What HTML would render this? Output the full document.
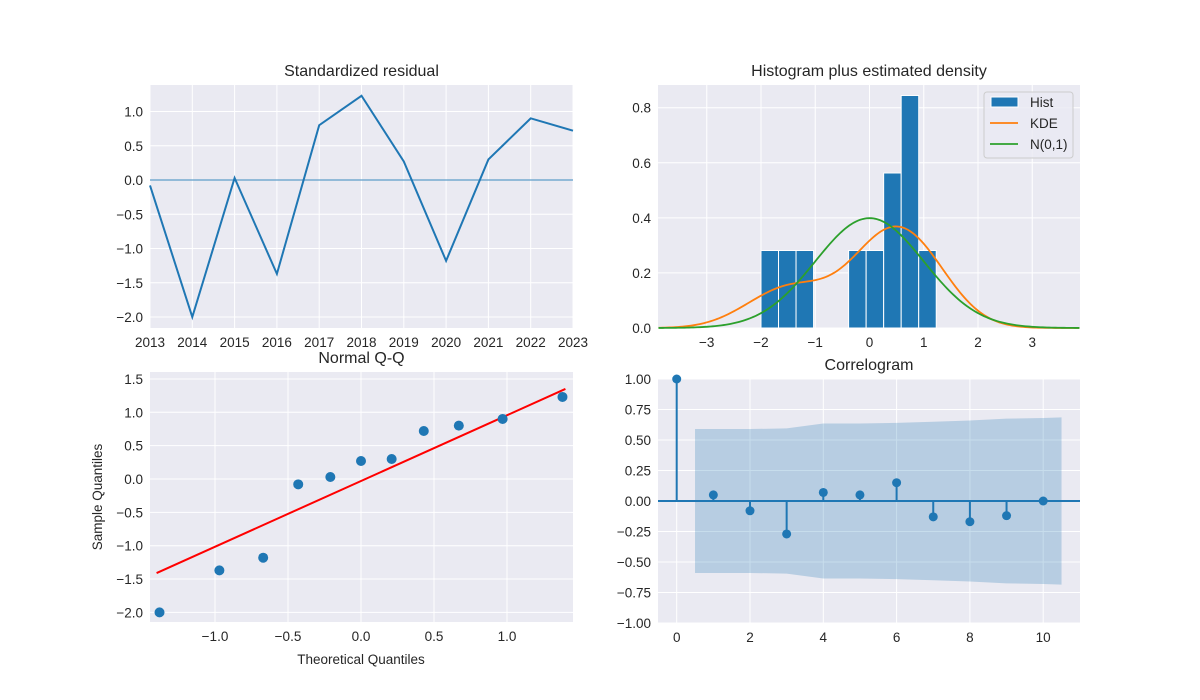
<!DOCTYPE html>
<html><head><meta charset="utf-8"><style>
body{margin:0;background:#fff}
svg{display:block;font-family:"Liberation Sans",sans-serif}
text{fill:#262626}
</style></head><body>
<svg id="fig" width="1200" height="700"></svg>
<script>
const years=[2013,2014,2015,2016,2017,2018,2019,2020,2021,2022,2023];
const resid=[-0.08,-2.0,0.03,-1.37,0.8,1.23,0.27,-1.18,0.3,0.9,0.72];
const resYTicks=[-2.0,-1.5,-1.0,-0.5,0.0,0.5,1.0];
const histCounts=[1,1,1,0,0,1,1,2,3,1];
const histXTicks=[-3,-2,-1,0,1,2,3];
const histYTicks=[0.0,0.2,0.4,0.6,0.8];
const qqTheo=[-1.38,-0.97,-0.67,-0.43,-0.21,0,0.21,0.43,0.67,0.97,1.38];
const qqSample=[-2.0,-1.37,-1.18,-0.08,0.03,0.27,0.3,0.72,0.8,0.9,1.23];
const qqLineX=[-1.4,1.4];
const qqLineY=[-1.41,1.35];
const qqXTicks=[-1.0,-0.5,0.0,0.5,1.0];
const qqYTicks=[-2.0,-1.5,-1.0,-0.5,0.0,0.5,1.0,1.5];
const acfLags=[0,1,2,3,4,5,6,7,8,9,10];
const acfVals=[1,0.05,-0.08,-0.27,0.07,0.05,0.15,-0.13,-0.17,-0.12,0.0];
const confLags=[0.5,1,2,3,4,5,6,7,8,9,10,10.5];
const confVals=[0.59,0.59,0.59,0.595,0.635,0.635,0.64,0.65,0.66,0.675,0.68,0.685];
const acfXTicks=[0,2,4,6,8,10];
const acfYTicks=[-1.0,-0.75,-0.5,-0.25,0,0.25,0.5,0.75,1.0];

const NS='http://www.w3.org/2000/svg';
const fig=document.getElementById('fig');
function el(tag,attrs,parent){const e=document.createElementNS(NS,tag);for(const k in attrs)e.setAttribute(k,attrs[k]);(parent||fig).appendChild(e);return e;}
function lin(d0,d1,r0,r1){return v=>r0+(v-d0)*(r1-r0)/(d1-d0);}
function fmtMinus(s){return s.replace('-','\u2212');}

function axes(name,x0,y0,x1,y1,sx,sy,xt,yt,xf,yf,title){
  const g=el('g',{});
  
  
  const bg=el('rect',{x:x0,y:y0,width:x1-x0,height:y1-y0,fill:'#eaeaf2'},g);
  
  
  xt.forEach(v=>{const x=sx(v);
    const l=el('line',{x1:x,x2:x,y1:y0,y2:y1,stroke:'#fff','stroke-width':1},g);
    
    
    const t=el('text',{x:x,y:y1+19,'text-anchor':'middle','font-size':13.5},g);t.textContent=fmtMinus(xf(v));
    
    });
  yt.forEach(v=>{const y=sy(v);
    const l=el('line',{x1:x0,x2:x1,y1:y,y2:y,stroke:'#fff','stroke-width':1},g);
    
    
    const t=el('text',{x:x0-7,y:y+5,'text-anchor':'end','font-size':13.5},g);t.textContent=fmtMinus(yf(v));
    
    });
  const t=el('text',{x:(x0+x1)/2,y:y0-9,'text-anchor':'middle','font-size':16},g);t.textContent=title;
  
  
  return g;
}
const C0='#1f77b4';

// Panel 1
{const x0=150,x1=573,y0=85,y1=328;
const sx=lin(2013,2023,x0,x1),sy=lin(0,1,180,111.5);
const g=axes('residual-panel',x0,y0,x1,y1,sx,sy,years,resYTicks,v=>String(v),v=>v.toFixed(1),'Standardized residual');
const z=el('line',{x1:x0,x2:x1,y1:sy(0),y2:sy(0),stroke:C0,'stroke-opacity':0.6,'stroke-width':1.5},g);


const p=el('polyline',{points:years.map((y,i)=>sx(y)+','+sy(resid[i])).join(' '),fill:'none',stroke:C0,'stroke-width':2},g);

}

// Panel 2
{const x0=658,x1=1080,y0=85,y1=328;
const sx=lin(-2,0,761,869.5),sy=lin(0,0.8,328,107.7);
const g=axes('histogram-panel',x0,y0,x1,y1,sx,sy,histXTicks,histYTicks,v=>String(v),v=>v.toFixed(1),'Histogram plus estimated density');
const mn=Math.min(...resid),mx=Math.max(...resid),nb=histCounts.length,w=(mx-mn)/nb,n=resid.length;
histCounts.forEach((c,i)=>{if(!c)return;const d=c/(n*w);
  const r=el('rect',{x:sx(mn+i*w),y:sy(d),width:sx(mn+(i+1)*w)-sx(mn+i*w),height:sy(0)-sy(d),fill:C0,stroke:'#fff','stroke-width':1},g);
  
  });
const mean=resid.reduce((a,b)=>a+b)/n;
const sd=Math.sqrt(resid.reduce((a,b)=>a+(b-mean)**2,0)/(n-1));
const bw=sd*Math.pow(n,-0.2);
const kp=[],np=[];
for(let x=-3.89;x<=3.88;x+=0.04){
  let k=0;resid.forEach(r=>{k+=Math.exp(-0.5*((x-r)/bw)**2)});k/=n*bw*Math.sqrt(2*Math.PI);
  kp.push(sx(x)+','+sy(k));np.push(sx(x)+','+sy(Math.exp(-x*x/2)/Math.sqrt(2*Math.PI)));}
const kl=el('polyline',{points:kp.join(' '),fill:'none',stroke:'#ff7f0e','stroke-width':1.8},g);


const nl=el('polyline',{points:np.join(' '),fill:'none',stroke:'#2ca02c','stroke-width':1.8},g);


const lg=el('g',{},g);


el('rect',{x:984,y:92,width:89,height:66,rx:3,fill:'#eaeaf2','fill-opacity':0.8,stroke:'#ccc'},lg);
el('rect',{x:991,y:97,width:27,height:10,fill:C0,stroke:'#fff'},lg);
el('line',{x1:990,x2:1018,y1:123,y2:123,stroke:'#ff7f0e','stroke-width':1.8},lg);
el('line',{x1:990,x2:1018,y1:144,y2:144,stroke:'#2ca02c','stroke-width':1.8},lg);
[['Hist',107],['KDE',128],['N(0,1)',149]].forEach(([s,y])=>{const t=el('text',{x:1030,y:y,'font-size':13.5},lg);t.textContent=s;
  
  });}

// Panel 3
{const x0=150,x1=573,y0=372,y1=622;
const sx=lin(0,1,361,507),sy=lin(0,1,479,412.3);
const g=axes('qq-panel',x0,y0,x1,y1,sx,sy,qqXTicks,qqYTicks,v=>v.toFixed(1),v=>v.toFixed(1),'Normal Q-Q');
const l=el('line',{x1:sx(qqLineX[0]),y1:sy(qqLineY[0]),x2:sx(qqLineX[1]),y2:sy(qqLineY[1]),stroke:'red','stroke-width':2},g);


qqTheo.forEach((t,i)=>{const c=el('circle',{cx:sx(t),cy:sy(qqSample[i]),r:5,fill:C0},g);
  
  });
const xl=el('text',{x:361,y:664,'text-anchor':'middle','font-size':13.5},g);xl.textContent='Theoretical Quantiles';


const yl=el('text',{x:102,y:497,'text-anchor':'middle','font-size':13.5,transform:'rotate(-90 102 497)'},g);yl.textContent='Sample Quantiles';

}

// Panel 4
{const x0=658,x1=1080,y0=379,y1=623;
const sx=lin(0,2,676.7,750),sy=lin(-1,1,623,379);
const g=axes('correlogram-panel',x0,y0,x1,y1,sx,sy,acfXTicks,acfYTicks,v=>String(v),v=>v.toFixed(2),'Correlogram');
const pts=confLags.map((l,i)=>sx(l)+','+sy(confVals[i])).concat(confLags.slice().reverse().map((l,i)=>sx(l)+','+sy(-confVals[confVals.length-1-i])));
const band=el('polygon',{points:pts.join(' '),fill:C0,'fill-opacity':0.25},g);


const z=el('line',{x1:x0,x2:x1,y1:sy(0),y2:sy(0),stroke:C0,'stroke-width':2},g);


acfLags.forEach((l,i)=>{
  const s=el('line',{x1:sx(l),x2:sx(l),y1:sy(0),y2:sy(acfVals[i]),stroke:C0,'stroke-width':2},g);
  
  
  const c=el('circle',{cx:sx(l),cy:sy(acfVals[i]),r:4.5,fill:C0},g);
  
  });}
</script>
</body></html>
